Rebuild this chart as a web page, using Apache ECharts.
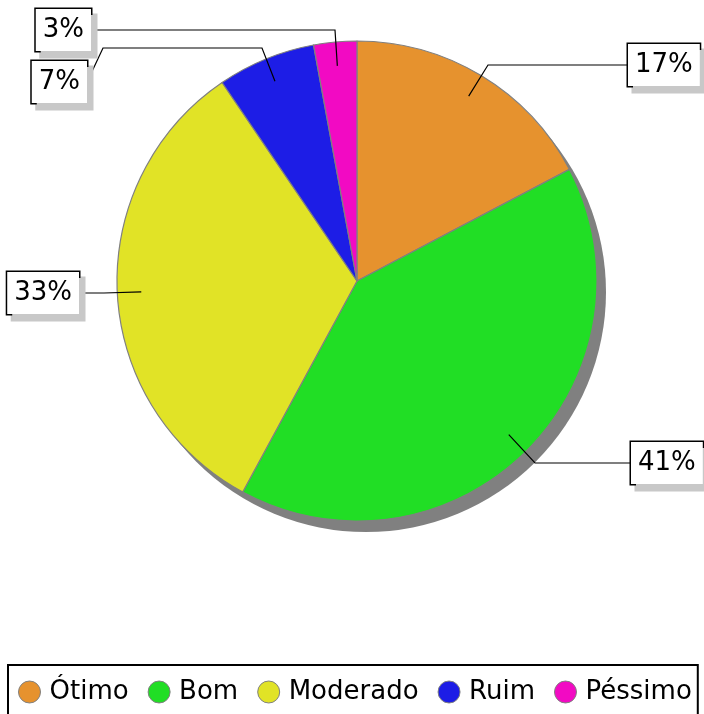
<!DOCTYPE html>
<html>
<head>
<meta charset="utf-8">
<script src="https://cdn.jsdelivr.net/npm/echarts@6/dist/echarts.min.js"></script>
<style>
  html, body { margin: 0; padding: 0; background: #fff; }
  #chart { width: 704px; height: 714px; }
</style>
</head>
<body>
<div id="chart"></div>
<script>
  // dados
  var categorias = ['Ótimo', 'Bom', 'Moderado', 'Ruim', 'Péssimo'];
  var valores = [17.3, 40.6, 32.6, 6.6, 2.9];
  var cores = ['#e6922e', '#21de25', '#e1e326', '#1d1de6', '#f20ac3'];

  // layout do grafico
  var CX = 357, CY = 281, R = 240;
  // caixas dos rotulos: x, y (meio), alinhamento
  var caixas = [
    [628, 65, 'left'],
    [631, 463, 'left'],
    [79, 293, 'right'],
    [87, 82, 'right'],
    [91, 30, 'right']
  ];
  // pontos intermediarios das linhas
  var cotovelos = [
    [[488, 65]],
    [[535, 463]],
    [[104, 293]],
    [[262, 48], [103, 48]],
    [[335, 30]]
  ];

  var chart = echarts.init(document.getElementById('chart'));

  var dados = categorias.map(function (nome, i) {
    return { name: nome, value: valores[i], itemStyle: { color: cores[i] } };
  });
  var dadosRotulo = categorias.map(function (nome, i) {
    return { name: nome, value: valores[i] };
  });

  var option = {
    animation: false,
    textStyle: { fontFamily: 'DejaVu Sans' },
    legend: {
      data: categorias,
      orient: 'horizontal',
      left: 8,
      top: 665,
      width: 700,
      padding: [14, 6, 30, 10],
      borderColor: '#000',
      borderWidth: 2,
      icon: 'circle',
      itemWidth: 22,
      itemHeight: 22,
      itemGap: 19,
      itemStyle: { borderColor: '#808080', borderWidth: 1 },
      textStyle: { fontSize: 26, color: '#000', fontFamily: 'DejaVu Sans', padding: [0, 0, 0, 4] }
    },
    series: [
      {
        // sombra
        type: 'pie',
        silent: true,
        center: [CX + 9, CY + 11],
        radius: R,
        label: { show: false },
        labelLine: { show: false },
        itemStyle: { color: '#808080' },
        data: [{ name: 'sombra', value: 1 }]
      },
      {
        type: 'pie',
        center: [CX, CY],
        radius: R,
        startAngle: 90,
        clockwise: true,
        itemStyle: { borderColor: '#808080', borderWidth: 1.2 },
        emphasis: { disabled: true },
        label: { show: false },
        labelLine: { show: false },
        data: dados
      },
      {
        // rotulos
        type: 'pie',
        silent: true,
        z: 5,
        center: [CX, CY],
        radius: R * 0.9,
        startAngle: 90,
        clockwise: true,
        avoidLabelOverlap: false,
        itemStyle: { color: 'rgba(0,0,0,0)', borderWidth: 0 },
        emphasis: { disabled: true },
        label: {
          show: true,
          position: 'outside',
          formatter: function (p) { return Math.round(p.percent) + '%'; },
          fontSize: 26,
          lineHeight: 30,
          color: '#000',
          fontFamily: 'DejaVu Sans',
          backgroundColor: '#fff',
          borderColor: '#000',
          borderWidth: 1.5,
          padding: [6, 7],
          shadowColor: '#c8c8c8',
          shadowOffsetX: 5,
          shadowOffsetY: 6,
          shadowBlur: 0
        },
        labelLine: {
          show: true,
          length: 20,
          length2: 20,
          lineStyle: { color: '#000', width: 1.2 }
        },
        labelLayout: function (p) {
          var c = caixas[p.dataIndex];
          var inicio = p.labelLinePoints ? p.labelLinePoints[0] : [CX, CY];
          var pts = [inicio].concat(cotovelos[p.dataIndex]);
          var fim = cotovelos[p.dataIndex].length > 1 ? [c[0] + 1, c[1] - 2] : [c[0], c[1]];
          pts.push(fim);
          return {
            x: c[0],
            y: c[1],
            align: c[2],
            verticalAlign: 'middle',
            labelLinePoints: pts
          };
        },
        data: dadosRotulo
      }
    ]
  };

  chart.setOption(option);
</script>
</body>
</html>
